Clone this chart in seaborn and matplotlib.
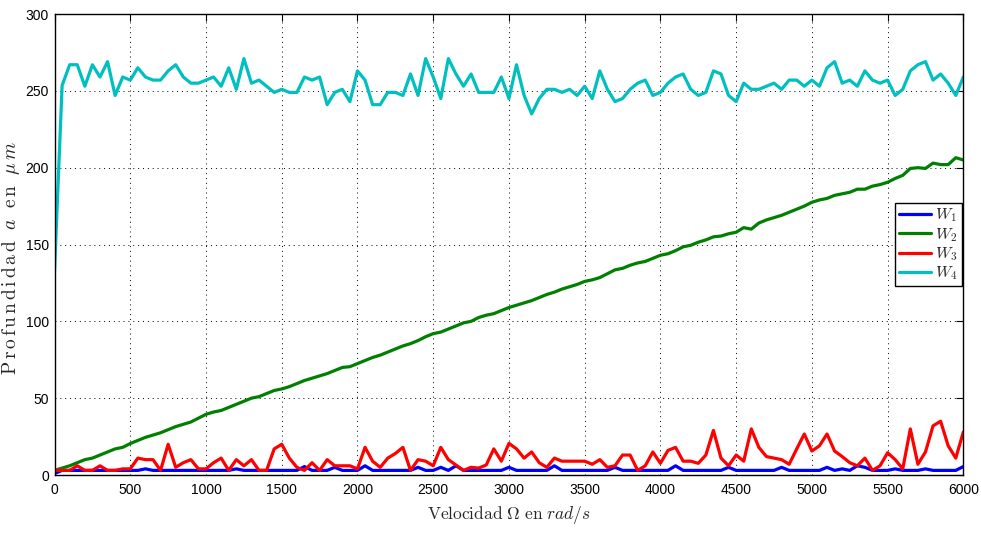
import numpy as np
import pandas as pd
import matplotlib
matplotlib.use("Agg")
import matplotlib.pyplot as plt
from matplotlib import font_manager
import seaborn as sns

velocidad = list(range(0, 6001, 50))

w1 = [1, 3, 3, 3, 3, 3, 3, 3, 3, 3,
      3, 3, 4, 3, 3, 3, 3, 3, 3, 3,
      3, 3, 3, 3, 4, 3, 3, 3, 3, 3,
      3, 3, 3, 5.5, 3, 3, 3, 5, 3, 3,
      3, 6, 3, 3, 3, 3, 3, 3, 5, 3,
      3, 5, 3, 6, 3, 3, 3, 3, 3, 3,
      5, 3, 3, 3, 3, 3, 6, 3, 3, 3,
      3, 3, 3, 3, 5, 3, 3, 3, 3, 3,
      3, 3, 6, 3, 3, 3, 3, 3, 3, 5,
      3, 3, 3, 3, 3, 3, 5, 3, 3, 3,
      3, 3, 5, 3, 4, 3, 6, 5, 3, 3,
      3, 4, 3, 3, 3, 4, 3, 3, 3, 3,
      5.5]

w2 = [3, 4.5, 6, 8, 10, 11, 13, 15, 17, 18,
      20.5, 22.5, 24.5, 26, 27.5, 29.5, 31.5, 33, 34.5, 37,
      39.5, 41, 42, 44, 46, 48, 50, 51, 53, 55,
      56, 57.5, 59.5, 61.5, 63, 64.5, 66, 68, 70, 70.5,
      72.5, 74.5, 76.5, 78, 80, 82, 84, 85.5, 87.5, 90,
      92, 93, 95, 97, 99, 100, 102.5, 104, 105, 107,
      109, 110.5, 112, 113.5, 115.5, 117.5, 119, 121, 122.5, 124,
      126, 127, 128.5, 131, 133.5, 134.5, 136.5, 138, 139, 141,
      143, 144, 146, 148.5, 149.5, 151.5, 153, 155, 155.5, 157,
      158, 161, 160, 164, 166, 167.5, 169, 171, 173, 175,
      177.5, 179, 180, 182, 183, 184, 186, 186, 188, 189,
      190.5, 193, 195, 199.5, 200, 199.5, 203, 202, 202, 206.5,
      205]

w3 = [3, 3, 3, 6, 3, 3, 6, 3, 3, 4,
      4, 11, 10, 10, 3, 20, 5, 8, 10, 4,
      4, 8, 11, 3, 10, 6, 10, 3, 3, 17,
      20, 11, 5, 3, 8, 3, 10, 6, 6, 6,
      4, 18, 9, 5, 11, 14, 18, 3, 10, 9,
      6, 18, 10, 6.5, 3, 5, 4.5, 6.5, 17, 9,
      20.6, 17, 11, 15, 8, 5, 11, 9, 9, 9,
      9, 7, 10, 5, 6, 13, 13, 3, 6, 15,
      7.6, 16, 18, 9, 9, 7.6, 13, 29, 11, 6,
      13, 9, 30, 18, 12, 11, 10, 7, 17, 26.7,
      15.6, 19, 26.7, 15.6, 12, 8, 6, 11, 3, 6,
      14.5, 10, 4, 30, 7, 15, 32, 35, 19, 11,
      28]

w4 = [133, 253.5, 267, 267, 253, 267, 259, 269, 247, 259,
      257, 265, 259, 257, 257, 263, 267, 259, 255, 255,
      257, 259, 253, 265, 251, 271, 255, 257, 253, 249,
      251, 249, 249, 259, 257, 259, 241, 249, 251, 243,
      263, 257, 241, 241, 249, 249, 247, 261, 247, 271,
      259, 245, 271, 261, 253, 261, 249, 249, 249, 259,
      245, 267, 247, 235, 245, 251, 251, 249, 251, 247,
      253, 245, 263, 251, 243, 245, 251, 255, 257, 247,
      249, 255, 259, 261, 251, 247, 249, 263, 261, 247,
      243, 255, 251, 251, 253, 255, 251, 257, 257, 253,
      257, 253, 265, 269, 255, 257, 253, 263, 257, 255,
      257, 247, 251, 263, 267, 269, 257, 261, 255, 247,
      259]

series_names = ["$W_1$", "$W_2$", "$W_3$", "$W_4$"]
series_colors = ["#0000FF", "#008000", "#FF0000", "#00BFBF"]
x_ticks = list(range(0, 6001, 500))
y_ticks = list(range(0, 301, 50))

frames = []
for name, vals in zip(series_names, [w1, w2, w3, w4]):
    frames.append(pd.DataFrame({"vel": velocidad, "prof": vals, "serie": name}))
df = pd.concat(frames, ignore_index=True)

sns.set_style("white")

# Condensed sans for tick labels if available
tick_family = "Liberation Sans"
tick_size = 10
try:
    font_manager.findfont(font_manager.FontProperties(family="Liberation Sans Narrow"),
                          fallback_to_default=False)
    tick_family = "Liberation Sans Narrow"
    tick_size = 11.5
except Exception:
    pass

plt.rcParams["font.family"] = [tick_family, "DejaVu Sans"]
plt.rcParams["mathtext.fontset"] = "cm"

fig = plt.figure(figsize=(9.81, 5.33), dpi=100)
ax = fig.add_axes([0.0556, 0.1088, 0.9264, 0.8649])

sns.lineplot(data=df, x="vel", y="prof", hue="serie", palette=series_colors,
             linewidth=2.3, ax=ax, legend=True)

ax.set_xlim(0, 6000)
ax.set_ylim(0, 300)
ax.set_xticks(x_ticks)
ax.set_yticks(y_ticks)
ax.tick_params(direction="in", top=True, right=True, length=5, width=0.8,
               labelsize=tick_size, colors="black")
ax.tick_params(axis="x", pad=6)
ax.tick_params(axis="y", pad=4)
ax.grid(True, linestyle=(0, (1, 4)), color="black", linewidth=0.7)
for s in ax.spines.values():
    s.set_visible(True)
    s.set_color("black")
    s.set_linewidth(1.0)

ax.set_xlabel(r"$\mathrm{Velocidad}\ \Omega\ \mathrm{en}\ rad/s$", fontsize=12.5, labelpad=5)
ax.set_ylabel(r"$\mathrm{P\,r\,o\,f\,u\,n\,d\,i\,d\,a\,d}\ \ a\ \ \mathrm{e\,n}\ \ \mu\, m$",
              fontsize=14)
ax.yaxis.set_label_coords(-0.036, 0.47)

leg = ax.legend(loc="center right", bbox_to_anchor=(1.0, 0.5), fontsize=11.5,
                frameon=True, fancybox=False, framealpha=1, edgecolor="black",
                handlelength=2.0, handletextpad=0.3, borderpad=0.25,
                labelspacing=0.1, borderaxespad=0.1)
leg.get_frame().set_linewidth(1.0)

fig.savefig("out.png", dpi=100, facecolor="white")
